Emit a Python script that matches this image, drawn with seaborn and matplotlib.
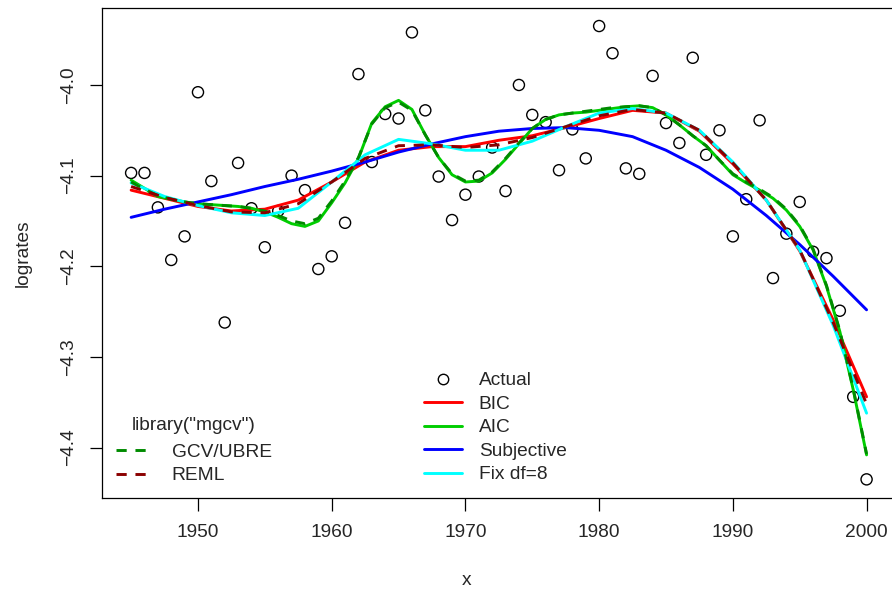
import numpy as np
import pandas as pd
import matplotlib
matplotlib.use("Agg")
import matplotlib.pyplot as plt
import seaborn as sns
from matplotlib.lines import Line2D

# observed log rates, one per year 1945..2000
years = list(range(1945, 2001))
lograte = [-4.097, -4.097, -4.135, -4.193, -4.167, -4.008, -4.106, -4.262,
           -4.086, -4.136, -4.179, -4.139, -4.100, -4.116, -4.203, -4.189,
           -4.152, -3.988, -4.085, -4.032, -4.037, -3.942, -4.028, -4.101,
           -4.149, -4.121, -4.101, -4.069, -4.117, -4.000, -4.033, -4.041,
           -4.094, -4.049, -4.081, -3.935, -3.965, -4.092, -4.098, -3.990,
           -4.042, -4.064, -3.970, -4.077, -4.050, -4.167, -4.126, -4.039,
           -4.213, -4.164, -4.129, -4.184, -4.191, -4.249, -4.344, -4.435]

# smooth fits read every 2.5 years
grid = [1945, 1947.5, 1950, 1952.5, 1955, 1957.5, 1960, 1962.5, 1965, 1967.5,
        1970, 1972.5, 1975, 1977.5, 1980, 1982.5, 1985, 1987.5, 1990, 1992.5,
        1995, 1997.5, 2000]
bic = [-4.116, -4.125, -4.134, -4.139, -4.137, -4.127, -4.107, -4.085, -4.072,
       -4.068, -4.068, -4.061, -4.056, -4.047, -4.037, -4.028, -4.031, -4.051,
       -4.087, -4.127, -4.183, -4.259, -4.344]
subjective = [-4.146, -4.137, -4.129, -4.121, -4.112, -4.104, -4.095, -4.085,
              -4.074, -4.065, -4.057, -4.051, -4.048, -4.047, -4.050, -4.057,
              -4.072, -4.091, -4.115, -4.144, -4.176, -4.211, -4.248]
fixdf8 = [-4.108, -4.123, -4.133, -4.141, -4.144, -4.136, -4.107, -4.077,
          -4.060, -4.065, -4.072, -4.072, -4.062, -4.046, -4.031, -4.026,
          -4.031, -4.050, -4.085, -4.127, -4.182, -4.265, -4.362]
reml = [-4.112, -4.124, -4.133, -4.140, -4.141, -4.131, -4.107, -4.081, -4.067,
        -4.066, -4.069, -4.066, -4.058, -4.046, -4.034, -4.027, -4.031, -4.050,
        -4.086, -4.127, -4.182, -4.262, -4.352]

# wiggly fits, one per year
aic = [-4.105, -4.114, -4.123, -4.126, -4.129, -4.131, -4.132, -4.133, -4.134,
       -4.136, -4.140, -4.146, -4.153, -4.156, -4.150, -4.130, -4.108, -4.081,
       -4.042, -4.024, -4.017, -4.027, -4.055, -4.080, -4.099, -4.107, -4.106,
       -4.097, -4.082, -4.065, -4.048, -4.038, -4.033, -4.031, -4.030, -4.028,
       -4.026, -4.024, -4.023, -4.025, -4.033, -4.044, -4.056, -4.067, -4.083,
       -4.099, -4.108, -4.116, -4.125, -4.138, -4.156, -4.182, -4.222, -4.272,
       -4.336, -4.408]
gcv = [-4.107, -4.115, -4.122, -4.126, -4.129, -4.131, -4.132, -4.133, -4.134,
       -4.136, -4.139, -4.144, -4.150, -4.153, -4.147, -4.128, -4.106, -4.080,
       -4.043, -4.025, -4.019, -4.028, -4.055, -4.080, -4.098, -4.106, -4.105,
       -4.096, -4.081, -4.064, -4.048, -4.038, -4.033, -4.031, -4.029, -4.027,
       -4.025, -4.024, -4.023, -4.025, -4.033, -4.044, -4.056, -4.067, -4.083,
       -4.098, -4.107, -4.115, -4.124, -4.137, -4.155, -4.181, -4.221, -4.271,
       -4.335, -4.407]

sns.set_style("ticks")
plt.rcParams['font.family'] = ['Liberation Sans', 'DejaVu Sans']
plt.rcParams['axes.unicode_minus'] = True

W, H = 892, 589
fs = 13.8
fig = plt.figure(figsize=(W / 100, H / 100), dpi=100)
ax = fig.add_axes([101.7 / W, 1 - 497.5 / H, (896 - 101.7) / W, (497.5 - 7.9) / H])

lw = 2.1
dash = (0, (3.5, 3))
sns.scatterplot(x=years, y=lograte, ax=ax, marker='o', s=64, facecolor='none',
                edgecolor='black', linewidth=1.0, zorder=2)
sns.lineplot(x=grid, y=bic, ax=ax, color='#FF0000', linewidth=lw, zorder=3)
sns.lineplot(x=years, y=aic, ax=ax, color='#00CD00', linewidth=lw, zorder=3)
sns.lineplot(x=grid, y=subjective, ax=ax, color='#0000FF', linewidth=lw, zorder=3)
sns.lineplot(x=grid, y=fixdf8, ax=ax, color='#00FFFF', linewidth=lw, zorder=3)
sns.lineplot(x=years, y=gcv, ax=ax, color='#008B00', linewidth=lw,
             linestyle=dash, zorder=4)
sns.lineplot(x=grid, y=reml, ax=ax, color='#8B0000', linewidth=lw,
             linestyle=dash, zorder=4)

ax.set_xlim(1942.8, 2002.2)
ax.set_ylim(-4.455, -3.915)
ax.set_xticks([1950, 1960, 1970, 1980, 1990, 2000])
ax.set_yticks([-4.4, -4.3, -4.2, -4.1, -4.0])
ax.set_yticklabels(['\u22124.4', '\u22124.3', '\u22124.2', '\u22124.1', '\u22124.0'],
                   rotation=90, va='center')
ax.tick_params(axis='both', length=9, width=0.9, color='black', labelsize=fs,
               direction='out')
ax.tick_params(axis='x', pad=10)
ax.tick_params(axis='y', pad=9)
for sp in ax.spines.values():
    sp.set_visible(True)
    sp.set_color('black')
    sp.set_linewidth(0.9)

ax.set_xlabel('x', fontsize=fs)
ax.set_ylabel('lograte' + 's', fontsize=fs)
ax.xaxis.set_label_coords(0.46, -0.153)
ax.yaxis.set_label_coords(-0.088, 0.5)

h1 = [Line2D([], [], marker='o', linestyle='none', markerfacecolor='none',
             markeredgecolor='black', markersize=7.5),
      Line2D([], [], color='#FF0000', linewidth=lw),
      Line2D([], [], color='#00CD00', linewidth=lw),
      Line2D([], [], color='#0000FF', linewidth=lw),
      Line2D([], [], color='#00FFFF', linewidth=lw)]
leg1 = ax.legend(h1, ['Actual', 'BIC', 'AIC', 'Subjective', 'Fix df=8'],
                 loc='upper left', bbox_to_anchor=(424 / W, 1 - 372 / H),
                 bbox_transform=fig.transFigure, frameon=False, fontsize=fs,
                 handlelength=2.0, handletextpad=0.85, labelspacing=0.315,
                 borderpad=0, borderaxespad=0)
ax.add_artist(leg1)

h2 = [Line2D([], [], color='#008B00', linewidth=lw, linestyle=dash),
      Line2D([], [], color='#8B0000', linewidth=lw, linestyle=dash)]
leg2 = ax.legend(h2, ['GCV/UBRE', 'REML'], title='library("mgcv")', title_fontsize=fs,
                 loc='upper left', bbox_to_anchor=(116 / W, 1 - 417 / H),
                 bbox_transform=fig.transFigure, frameon=False, fontsize=fs,
                 handlelength=1.65, handletextpad=1.25, labelspacing=0.3,
                 borderpad=0, borderaxespad=0)
leg2._legend_box.sep = 7

fig.savefig('out.png', dpi=100, facecolor='white')
